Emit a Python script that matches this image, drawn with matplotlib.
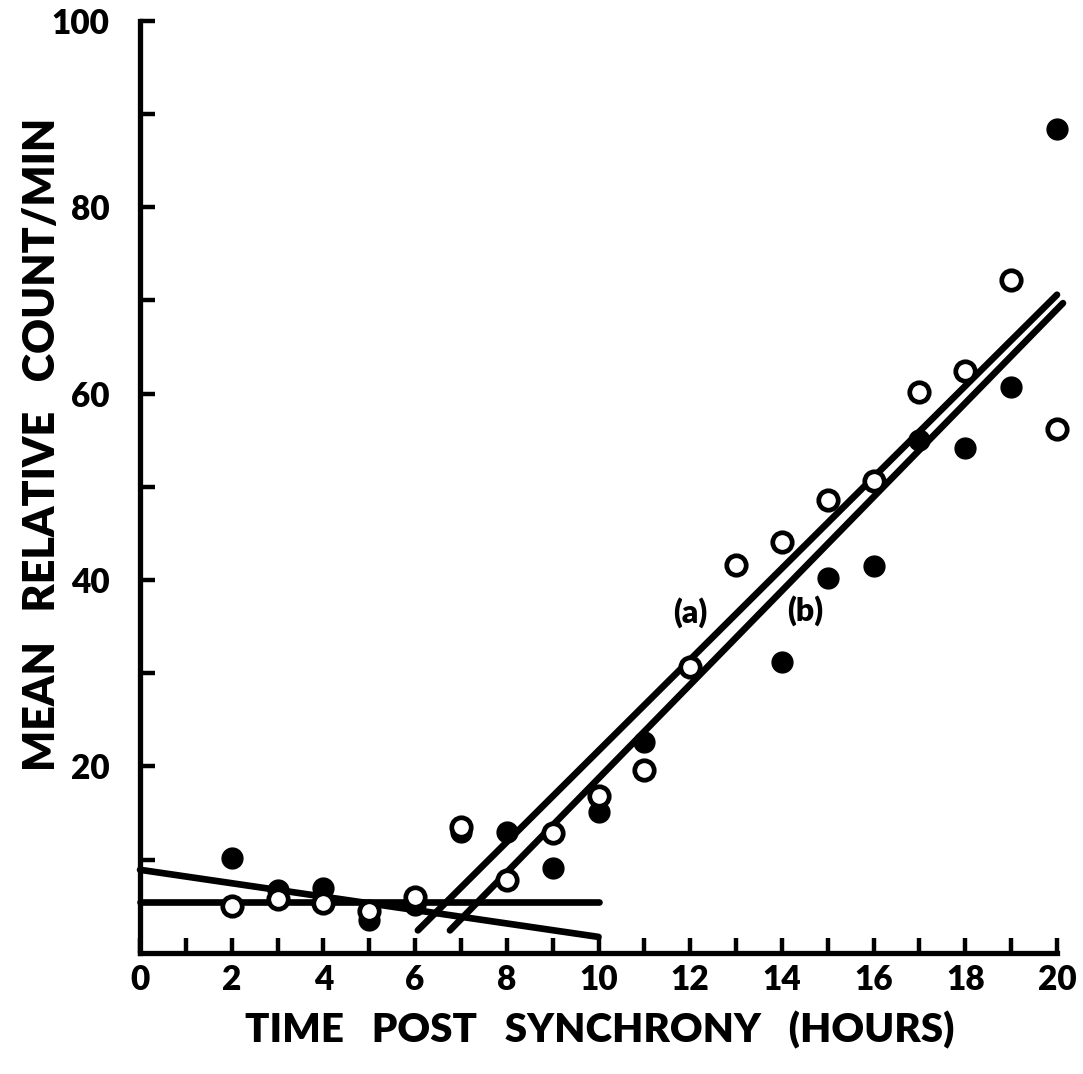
import numpy as np
import matplotlib.pyplot as plt

plt.rcParams["font.family"] = ["Lato", "DejaVu Sans"]

# data
hours = [2, 3, 4, 5, 6, 7, 8, 9, 10, 11, 12, 13, 14, 15, 16, 17, 18, 19, 20]
open_counts = [5.0, 5.8, 5.3, 4.5, 6.0, 13.5, 7.8, 12.8, 16.8, 19.6, 30.7,
               41.6, 44.1, 48.6, 50.6, 60.2, 62.4, 72.2, 56.2]
filled_counts = [10.2, 6.7, 6.9, 3.5, 5.1, 13.0, 13.0, 9.1, 15.1, 22.6, np.nan,
                 np.nan, 31.2, 40.2, 41.5, 55.0, 54.2, 60.7, 88.4]

# fitted lines
flat_x, flat_y = [0, 10], [5.4, 5.4]
decl_x, decl_y = [0, 10], [8.9, 1.7]
line_a_x, line_a_y = [6.06, 20.0], [2.4, 70.6]
line_b_x, line_b_y = [6.76, 20.13], [2.4, 69.7]

fig = plt.figure(figsize=(10.83, 10.74), dpi=100)
ax = fig.add_axes([0.1293, 0.1129, 0.8467, 0.8678])

lw = 4.8
for xs, ys in [(flat_x, flat_y), (decl_x, decl_y), (line_a_x, line_a_y), (line_b_x, line_b_y)]:
    ax.plot(xs, ys, color="black", lw=lw, solid_capstyle="round", zorder=2, clip_on=False)

ax.plot(hours, filled_counts, "o", color="black", ms=15, zorder=3, clip_on=False)
ax.plot(hours, open_counts, "o", mfc="white", mec="black", mew=3.4, ms=14, zorder=4, clip_on=False)

ax.text(12.0, 36.5, "(a)", fontsize=23, fontweight="heavy", ha="center", va="center")
ax.text(14.5, 36.7, "(b)", fontsize=23, fontweight="heavy", ha="center", va="center")

ax.set_xlim(0, 20)
ax.set_ylim(0, 100)
ax.spines["top"].set_visible(False)
ax.spines["right"].set_visible(False)
ax.spines["left"].set_linewidth(3.8)
ax.spines["bottom"].set_linewidth(3.8)
ax.spines["left"].set_capstyle("projecting")
ax.spines["bottom"].set_capstyle("projecting")

ax.set_xticks(range(0, 21))
ax.set_xticklabels([str(h) if h % 2 == 0 else "" for h in range(0, 21)])
ax.set_yticks(range(10, 101, 10))
ax.set_yticklabels([str(v) if v % 20 == 0 else "" for v in range(10, 101, 10)])
ax.tick_params(direction="in", length=11, width=3.2, labelsize=24)
ax.tick_params(axis="x", pad=8)
ax.tick_params(axis="y", pad=22)
for lab in ax.get_xticklabels() + ax.get_yticklabels():
    lab.set_fontweight("heavy")

fig.text(600 / 1083, 1 - 1030 / 1074, "TIME   POST   SYNCHRONY   (HOURS)",
         fontsize=29, fontweight="heavy", ha="center", va="center")
fig.text(42 / 1083, 1 - 444 / 1074, "MEAN   RELATIVE   COUNT/MIN",
         fontsize=31, fontweight="heavy", ha="center", va="center", rotation=90)

fig.savefig("out.png", dpi=100)
